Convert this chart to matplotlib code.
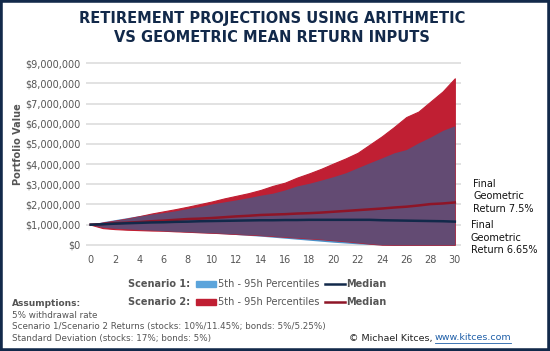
import numpy as np
import matplotlib.pyplot as plt
from matplotlib.patches import Rectangle
from matplotlib.lines import Line2D

# values in $ millions, years 0..30
years = list(range(31))
s1_upper = [1.00, 1.15, 1.25, 1.35, 1.45, 1.52, 1.60, 1.69, 1.80, 1.90,
            2.03, 2.13, 2.23, 2.34, 2.46, 2.56, 2.72, 2.92, 3.05, 3.21,
            3.38, 3.57, 3.82, 4.07, 4.31, 4.56, 4.72, 5.05, 5.34, 5.67, 5.90]
s1_lower = [1.00, 0.87, 0.82, 0.79, 0.76, 0.73, 0.70, 0.67, 0.64, 0.61,
            0.58, 0.55, 0.51, 0.47, 0.43, 0.38, 0.33, 0.28, 0.23, 0.18,
            0.13, 0.09, 0.05, 0.02, 0.00, 0.00, 0.00, 0.00, 0.00, 0.00, 0.00]
s1_median = [1.00, 1.02, 1.05, 1.07, 1.09, 1.11, 1.12, 1.14, 1.15, 1.17,
             1.18, 1.19, 1.20, 1.21, 1.22, 1.22, 1.23, 1.23, 1.24, 1.24,
             1.24, 1.24, 1.24, 1.24, 1.22, 1.21, 1.20, 1.19, 1.18, 1.17, 1.15]
s2_upper = [1.00, 1.10, 1.20, 1.30, 1.42, 1.55, 1.66, 1.77, 1.89, 2.02,
            2.15, 2.30, 2.43, 2.56, 2.72, 2.92, 3.08, 3.33, 3.54, 3.77,
            4.03, 4.28, 4.56, 4.97, 5.38, 5.84, 6.33, 6.60, 7.10, 7.60, 8.25]
s2_lower = [1.00, 0.83, 0.78, 0.75, 0.73, 0.71, 0.70, 0.67, 0.65, 0.62,
            0.60, 0.57, 0.54, 0.51, 0.48, 0.44, 0.40, 0.36, 0.32, 0.28,
            0.23, 0.18, 0.12, 0.06, 0.01, 0.00, 0.00, 0.00, 0.00, 0.00, 0.00]
s2_median = [1.00, 1.03, 1.07, 1.10, 1.13, 1.17, 1.20, 1.24, 1.28, 1.30,
             1.33, 1.37, 1.41, 1.44, 1.48, 1.50, 1.52, 1.55, 1.57, 1.60,
             1.64, 1.68, 1.72, 1.76, 1.80, 1.85, 1.89, 1.95, 2.02, 2.05, 2.10]
ytick_vals = list(range(0, 10))
xtick_vals = list(range(0, 31, 2))

NAVY = '#12294A'
BLUE = '#4A90C8'
RED = '#C01F33'
PURPLE = '#634B73'
DRED = '#8E1527'
GREY = '#555555'

plt.rcParams['font.family'] = ['DejaVu Sans']

fig = plt.figure(figsize=(5.5, 3.51), dpi=100)
fig.patches.append(Rectangle((0, 0), 1, 1, transform=fig.transFigure,
                             fill=False, edgecolor=NAVY, linewidth=4))

ax = fig.add_axes([0.156, 0.288, 0.682, 0.535])
x = np.array(years)
u1, l1 = np.array(s1_upper), np.array(s1_lower)
u2, l2 = np.array(s2_upper), np.array(s2_lower)
ax.fill_between(x, l1, u1, color=BLUE, linewidth=0, zorder=2)
ax.fill_between(x, l2, u2, facecolor=RED, edgecolor=RED, linewidth=0.8, zorder=3)
ax.fill_between(x, np.maximum(l1, l2), np.minimum(u1, u2), color=PURPLE,
                linewidth=0, zorder=4)
ax.plot(x, s2_median, color=DRED, lw=1.8, zorder=5)
ax.plot(x, s1_median, color=NAVY, lw=1.8, zorder=6)

ax.set_xlim(-0.4, 30.5)
ax.set_ylim(-0.25, 9.05)
ax.set_yticks(ytick_vals)
ax.set_yticklabels(['$0' if v == 0 else '${:,}'.format(v * 1000000) for v in ytick_vals])
ax.set_xticks(xtick_vals)
ax.grid(axis='y', color='#DDDDDD', linewidth=1.2, zorder=0)
ax.set_axisbelow(True)
for s in ax.spines.values():
    s.set_visible(False)
ax.tick_params(length=0, labelsize=7, labelcolor=GREY, pad=3.5)
ax.tick_params(axis='y', pad=4)

fig.text(0.033, 0.59, 'Portfolio Value', rotation=90, ha='center', va='center',
         fontsize=7, color=GREY, fontweight='bold')

fig.text(0.495, 0.968, 'RETIREMENT PROJECTIONS USING ARITHMETIC\nVS GEOMETRIC MEAN RETURN INPUTS',
         ha='center', va='top', fontsize=10.5, color=NAVY, fontweight='bold',
         linespacing=1.3)

fig.text(0.86, 0.49, 'Final\nGeometric\nReturn 7.5%', ha='left', va='top',
         fontsize=7, color='#111111', linespacing=1.3)
fig.text(0.856, 0.372, 'Final\nGeometric\nReturn 6.65%', ha='left', va='top',
         fontsize=7, color='#111111', linespacing=1.3)

# legend rows
rows = [(1 - 284 / 351, 'Scenario 1:', '#5BA4DB', NAVY),
        (1 - 302 / 351, 'Scenario 2:', RED, DRED)]
for yy, lab, pc, lc in rows:
    fig.text(0.346, yy, lab, ha='right', va='center', fontsize=7,
             color=GREY, fontweight='bold')
    fig.patches.append(Rectangle((0.357, yy - 0.009), 0.036, 0.018,
                                 transform=fig.transFigure, color=pc))
    fig.text(0.396, yy, '5th - 95h Percentiles', ha='left', va='center',
             fontsize=7, color=GREY)
    fig.lines.append(Line2D([0.591, 0.627], [yy, yy], transform=fig.transFigure,
                            color=lc, lw=1.8))
    fig.text(0.629, yy, 'Median', ha='left', va='center', fontsize=7,
             color=GREY, fontweight='bold')

fig.text(0.022, 1 - 304 / 351, 'Assumptions:', ha='left', va='center',
         fontsize=6.5, color=GREY, fontweight='bold')
notes = ['5% withdrawal rate',
         'Scenario 1/Scenario 2 Returns (stocks: 10%/11.45%; bonds: 5%/5.25%)',
         'Standard Deviation (stocks: 17%; bonds: 5%)']
for i, t in enumerate(notes):
    fig.text(0.022, 1 - (316 + 11 * i) / 351, t, ha='left', va='center',
             fontsize=6.3, color=GREY)

fig.text(0.786, 1 - 338 / 351, '\u00a9 Michael Kitces,', ha='right', va='center',
         fontsize=6.8, color='#222222')
fig.text(0.79, 1 - 338 / 351, 'www.kitces.com', ha='left', va='center',
         fontsize=6.8, color='#1F5FA8')
fig.lines.append(Line2D([0.79, 0.929], [1 - 343 / 351] * 2,
                        transform=fig.transFigure, color='#1F5FA8', lw=0.6))

fig.savefig('out.png', dpi=100)
